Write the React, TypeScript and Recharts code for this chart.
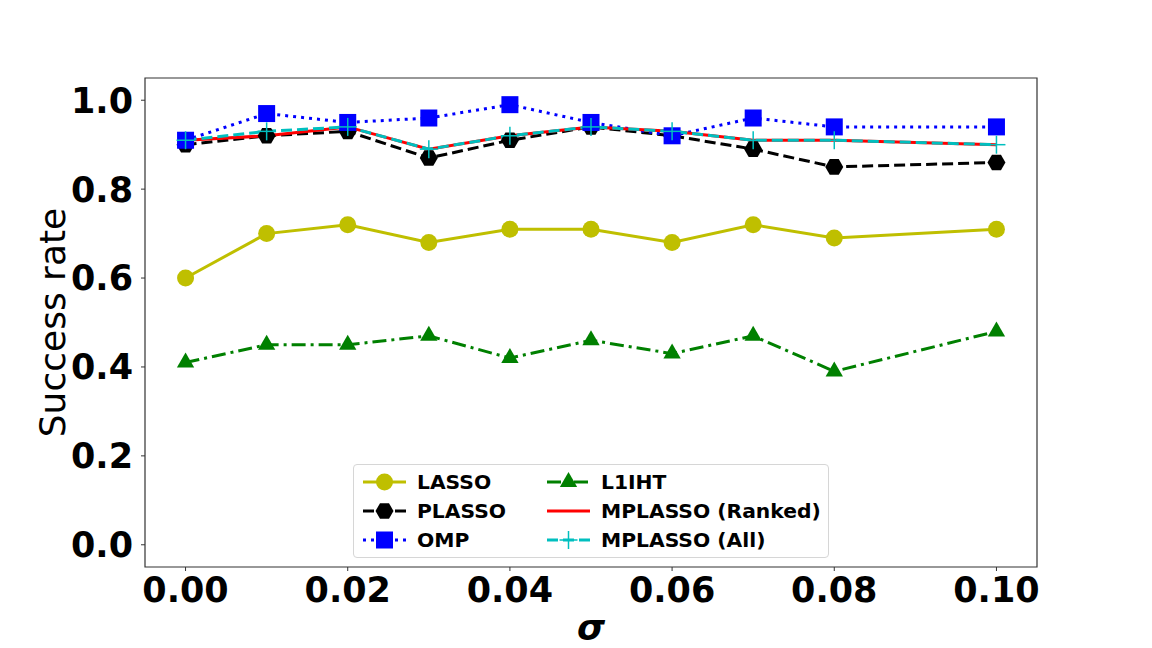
import React from "react";
import {
  LineChart,
  Line,
  XAxis,
  YAxis,
  Legend,
  ReferenceArea,
} from "recharts";

// sigma values (no 0.09 in the original run)
const sigmas = [0, 0.01, 0.02, 0.03, 0.04, 0.05, 0.06, 0.07, 0.08, 0.1];

const lasso = [0.6, 0.7, 0.72, 0.68, 0.71, 0.71, 0.68, 0.72, 0.69, 0.71];
const plasso = [0.9, 0.92, 0.93, 0.87, 0.91, 0.94, 0.92, 0.89, 0.85, 0.86];
const omp = [0.91, 0.97, 0.95, 0.96, 0.99, 0.95, 0.92, 0.96, 0.94, 0.94];
const l1iht = [0.41, 0.45, 0.45, 0.47, 0.42, 0.46, 0.43, 0.47, 0.39, 0.48];
const mplassoRanked = [0.91, 0.92, 0.94, 0.89, 0.92, 0.94, 0.93, 0.91, 0.91, 0.9];
const mplassoAll = [0.91, 0.93, 0.94, 0.89, 0.92, 0.94, 0.93, 0.91, 0.91, 0.9];

const xTicks = [0, 0.02, 0.04, 0.06, 0.08, 0.1];
const yTicks = [0, 0.2, 0.4, 0.6, 0.8, 1.0];

const data = sigmas.map((s, i) => ({
  sigma: s,
  lasso: lasso[i],
  plasso: plasso[i],
  omp: omp[i],
  l1iht: l1iht[i],
  ranked: mplassoRanked[i],
  all: mplassoAll[i],
}));

type MarkerKind = "circle" | "hexagon" | "square" | "triangle" | "plus" | "none";

function drawMarker(kind: MarkerKind, cx: number, cy: number, color: string, key?: any) {
  switch (kind) {
    case "circle":
      return <circle key={key} cx={cx} cy={cy} r={8.5} fill={color} />;
    case "hexagon": {
      const r = 9;
      const pts = [0, 60, 120, 180, 240, 300]
        .map((a) => {
          const t = (a * Math.PI) / 180;
          return `${cx + r * Math.cos(t)},${cy + r * Math.sin(t)}`;
        })
        .join(" ");
      return <polygon key={key} points={pts} fill={color} />;
    }
    case "square":
      return <rect key={key} x={cx - 8.5} y={cy - 8.5} width={17} height={17} fill={color} />;
    case "triangle": {
      const r = 10;
      const pts = `${cx},${cy - r} ${cx + r * 0.866},${cy + r * 0.5} ${cx - r * 0.866},${cy + r * 0.5}`;
      return <polygon key={key} points={pts} fill={color} />;
    }
    case "plus":
      return (
        <g key={key} stroke={color} strokeWidth={1.5}>
          <line x1={cx - 9} y1={cy} x2={cx + 9} y2={cy} />
          <line x1={cx} y1={cy - 9} x2={cx} y2={cy + 9} />
        </g>
      );
    default:
      return <g key={key} />;
  }
}

const series = [
  { key: "lasso", name: "LASSO", color: "#bfbf00", dash: undefined, marker: "circle" as MarkerKind },
  { key: "plasso", name: "PLASSO", color: "#000000", dash: "11 5", marker: "hexagon" as MarkerKind },
  { key: "omp", name: "OMP", color: "#0000ff", dash: "3 5", marker: "square" as MarkerKind },
  { key: "l1iht", name: "L1IHT", color: "#008000", dash: "14 5 3 5", marker: "triangle" as MarkerKind },
  { key: "ranked", name: "MPLASSO (Ranked)", color: "#ff0000", dash: undefined, marker: "none" as MarkerKind },
  { key: "all", name: "MPLASSO (All)", color: "#00bfbf", dash: "11 5", marker: "plus" as MarkerKind },
];

const font = "'DejaVu Sans', sans-serif";

function renderLegend() {
  const rows = [17, 46, 75];
  const cols = [
    { x0: 9, x1: 52, tx: 63 },
    { x0: 193, x1: 236, tx: 247 },
  ];
  return (
    <div
      style={{
        width: 474,
        height: 92,
        border: "1px solid #d6d6d6",
        borderRadius: 4,
        background: "rgba(255,255,255,0.85)",
      }}
    >
      <svg width={474} height={92} style={{ display: "block" }}>
        {series.map((s, i) => {
          const c = cols[Math.floor(i / 3)];
          const y = rows[i % 3];
          const mid = (c.x0 + c.x1) / 2;
          return (
            <g key={s.key}>
              <line
                x1={c.x0}
                y1={y}
                x2={c.x1}
                y2={y}
                stroke={s.color}
                strokeWidth={3}
                strokeDasharray={s.dash}
              />
              {drawMarker(s.marker, mid, y, s.color)}
              <text
                x={c.tx}
                y={y}
                dy="0.36em"
                fontFamily={font}
                fontWeight="bold"
                fontSize={20.3}
                fill="#000"
              >
                {s.name}
              </text>
            </g>
          );
        })}
      </svg>
    </div>
  );
}

export default function App() {
  return (
    <div style={{ position: "absolute", left: 0, top: 0, background: "#fff" }}>
      <LineChart
        width={1152}
        height={648}
        data={data}
        margin={{ top: 78, right: 115, bottom: 0, left: 0 }}
      >
        <ReferenceArea
          x1={-0.005}
          x2={0.105}
          y1={-0.05}
          y2={1.05}
          fill="none"
          fillOpacity={0}
          stroke="#333"
          strokeWidth={1.2}
        />
        <XAxis
          dataKey="sigma"
          type="number"
          domain={[-0.005, 0.105]}
          allowDataOverflow
          ticks={xTicks}
          tickFormatter={(v: number) => v.toFixed(2)}
          height={81}
          axisLine={false}
          tickLine={{ stroke: "#333" }}
          tickSize={4}
          tickMargin={6}
          tick={{ fill: "#000", fontFamily: font, fontWeight: "bold", fontSize: 35 }}
          label={{
            value: "σ",
            position: "insideBottom",
            offset: 8,
            style: { fill: "#000", fontFamily: font, fontWeight: "bold", fontStyle: "italic", fontSize: 36 },
          }}
        />
        <YAxis
          type="number"
          domain={[-0.05, 1.05]}
          allowDataOverflow
          ticks={yTicks}
          tickFormatter={(v: number) => v.toFixed(1)}
          width={145}
          axisLine={false}
          tickLine={{ stroke: "#333" }}
          tickSize={4}
          tickMargin={8}
          tick={{ fill: "#000", fontFamily: font, fontWeight: "bold", fontSize: 35 }}
          label={{
            value: "Success rate",
            angle: -90,
            position: "insideLeft",
            offset: 52,
            style: { textAnchor: "middle", fill: "#000", fontFamily: font, fontSize: 36 },
          }}
        />
        {series.map((s) => (
          <Line
            key={s.key}
            dataKey={s.key}
            name={s.name}
            type="linear"
            stroke={s.color}
            strokeWidth={3}
            strokeDasharray={s.dash}
            isAnimationActive={false}
            dot={(p: any) => drawMarker(s.marker, p.cx, p.cy, s.color, `${s.key}-${p.index}`)}
            activeDot={false}
          />
        ))}
        <Legend
          layout="horizontal"
          verticalAlign="middle"
          align="center"
          content={renderLegend}
          wrapperStyle={{ left: 353, top: 464, width: 476, height: 94 }}
        />
      </LineChart>
    </div>
  );
}
